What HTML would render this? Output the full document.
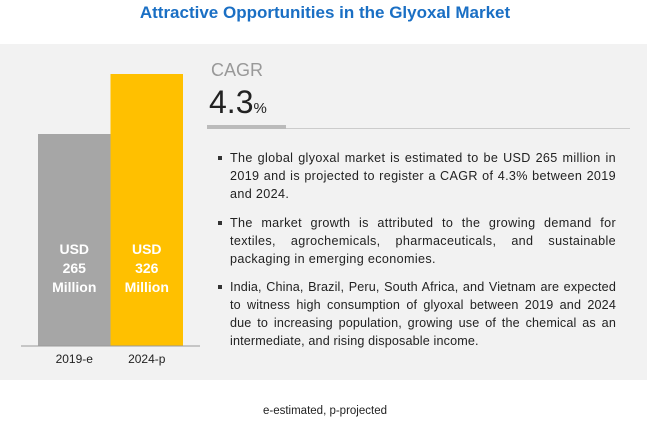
<!DOCTYPE html>
<html><head><meta charset="utf-8"><style>
body{margin:0;width:650px;height:428px;background:#fff;font-family:"Liberation Sans",sans-serif;position:relative;overflow:hidden}
.abs{position:absolute}
#title{left:0;width:650px;top:3px;text-align:center;color:#1a6fc4;font-weight:bold;font-size:17px}
#panel{left:0;top:44px;width:647px;height:336px;background:#f2f2f2}
.bl{position:absolute;left:230px;width:386px;font-size:12.6px;letter-spacing:0.35px;line-height:18px;color:#222;text-align:justify}
.bl::before{content:"";position:absolute;left:-12px;top:7px;width:4px;height:4px;background:#333}
.bar-label{position:absolute;color:#fff;font-weight:bold;font-size:14px;line-height:19px;text-align:center}
</style></head><body>
<div id="title" class="abs">Attractive Opportunities in the Glyoxal Market</div>
<div id="panel" class="abs"></div>
<svg class="abs" style="left:0;top:0" width="650" height="428">
<g id="bars"></g>
<line x1="21" x2="200" y1="346" y2="346" stroke="#999" stroke-width="1"/>
</svg>
<div id="labels"></div>
<div class="abs" style="left:211px;top:60px;font-size:18px;color:#999">CAGR</div>
<div class="abs" style="left:209px;top:84px;font-size:32px;color:#222">4.3<span style="font-size:15px">%</span></div>
<div class="abs" style="left:207px;top:125px;width:79px;height:4px;background:#bbb"></div>
<div class="abs" style="left:286px;top:128px;width:344px;height:1px;background:#ccc"></div>
<div class="bl" style="top:149px">The global glyoxal market is estimated to be USD 265 million in 2019 and is projected to register a CAGR of 4.3% between 2019 and 2024.</div>
<div class="bl" style="top:214px">The market growth is attributed to the growing demand for textiles, agrochemicals, pharmaceuticals, and sustainable packaging in emerging economies.</div>
<div class="bl" style="top:278px;letter-spacing:0.15px"><div style="text-align-last:justify">India, China, Brazil, Peru, South Africa, and Vietnam are expected</div>to witness high consumption of glyoxal between 2019 and 2024 due to increasing population, growing use of the chemical as an intermediate, and rising disposable income.</div>
<div class="abs" style="left:0;width:650px;top:405px;text-align:center;font-size:11.5px;color:#222">e-estimated, p-projected</div>
<script>
const categories=["2019-e","2024-p"];
const values=[265,326];
const valueLabels=["265","326"];
const colors=["#a6a6a6","#ffc000"];
const baseY=346, x0=38, bw=72.5;
function yScale(v){return baseY-(v-49.5)*(272/(326-49.5));}
const g=document.getElementById('bars'), lab=document.getElementById('labels');
categories.forEach((c,i)=>{
  const r=document.createElementNS('http://www.w3.org/2000/svg','rect');
  const x=x0+i*bw, y=yScale(values[i]);
  r.setAttribute('x',x);r.setAttribute('y',y);r.setAttribute('width',bw);r.setAttribute('height',baseY-y);r.setAttribute('fill',colors[i]);
  
  
  g.appendChild(r);
  const d=document.createElement('div');d.className='bar-label';
  d.style.left=x+'px';d.style.width=bw+'px';d.style.top='240px';
  d.innerHTML='USD<br>'+valueLabels[i]+'<br>Million';
  
  
  lab.appendChild(d);
  const t=document.createElement('div');t.className='abs';
  t.style.cssText='left:'+x+'px;width:'+bw+'px;top:352px;text-align:center;font-size:12px;color:#222';
  t.textContent=c;
  
  
  lab.appendChild(t);
});
</script>
</body></html>
